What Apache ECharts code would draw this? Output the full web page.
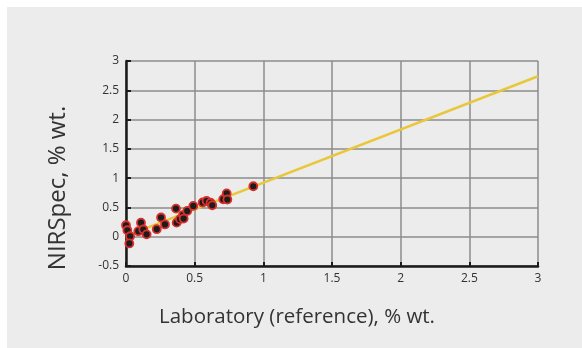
<!DOCTYPE html>
<html>
<head>
<meta charset="utf-8">
<script src="https://cdn.jsdelivr.net/npm/echarts@6/dist/echarts.min.js"></script>
<style>
html,body{margin:0;padding:0;background:#fff;}
#chart{width:582px;height:348px;}
</style>
</head>
<body>
<div id="chart"></div>
<script>
var labX = [0.00,0.01,0.03,0.024,0.09,0.109,0.126,0.15,0.224,0.255,0.284,0.364,0.369,0.393,0.415,0.42,0.446,0.49,0.558,0.587,0.616,0.628,0.708,0.733,0.738,0.927];
var nirY = [0.196,0.11,0.008,-0.115,0.094,0.24,0.123,0.04,0.128,0.328,0.21,0.48,0.24,0.30,0.37,0.31,0.44,0.525,0.584,0.61,0.58,0.537,0.64,0.74,0.635,0.862];
var fitX = [0.03, 3];
var fitY = [0.04, 2.74];
var xTicks = [0, 0.5, 1, 1.5, 2, 2.5, 3];
var yTicks = [-0.5, 0, 0.5, 1, 1.5, 2, 2.5, 3];
var xTitle = 'Laboratory (reference), % wt.';
var yTitle = 'NIRSpec, % wt.';

var pts = labX.map(function(x, i){ return [x, nirY[i]]; });
var fit = fitX.map(function(x, i){ return [x, fitY[i]]; });
var font = '"Open Sans", "DejaVu Sans", sans-serif';

var chart = echarts.init(document.getElementById('chart'), null, {renderer:'canvas'});
chart.setOption({
  animation: false,
  backgroundColor: '#ffffff',
  graphic: [
    {type:'rect', z:-10, shape:{x:7, y:7, width:575, height:341}, style:{fill:'#ececec'}},
    {type:'text', x:297, y:317, style:{text:xTitle, font:'20.5px ' + font, fill:'#333333', textAlign:'center', textVerticalAlign:'middle'}},
    {type:'text', x:58, y:188, rotation:Math.PI/2, style:{text:yTitle, font:'24px ' + font, fill:'#333333', textAlign:'center', textVerticalAlign:'middle'}}
  ],
  grid: {left:126, top:61, width:412, height:205, containLabel:false},
  xAxis: {
    type:'value', min:xTicks[0], max:xTicks[xTicks.length-1], interval:0.5,
    axisLine:{show:true, onZero:false, lineStyle:{color:'#1a1a1a', width:2.5}},
    axisTick:{show:true, inside:true, length:4, lineStyle:{color:'#1a1a1a', width:2}},
    axisLabel:{color:'#333333', fontSize:12, fontFamily:font, margin:7},
    splitLine:{show:true, lineStyle:{color:'#8c8c8c', width:1.5}}
  },
  yAxis: {
    type:'value', min:yTicks[0], max:yTicks[yTicks.length-1], interval:0.5,
    axisLine:{show:true, onZero:false, lineStyle:{color:'#1a1a1a', width:2.5}},
    axisTick:{show:true, inside:true, length:5, lineStyle:{color:'#1a1a1a', width:2}},
    axisLabel:{color:'#333333', fontSize:12, fontFamily:font, margin:7},
    splitLine:{show:true, lineStyle:{color:'#8c8c8c', width:1.5}}
  },
  series: [
    {type:'line', data:fit, symbol:'none', lineStyle:{color:'#e8c83a', width:2.5}, z:2},
    {type:'scatter', data:pts, symbol:'circle', symbolSize:8,
     itemStyle:{color:'#1c1c1c', borderColor:'#d8302c', borderWidth:1.8, opacity:1}, z:3}
  ]
});
</script>
</body>
</html>
